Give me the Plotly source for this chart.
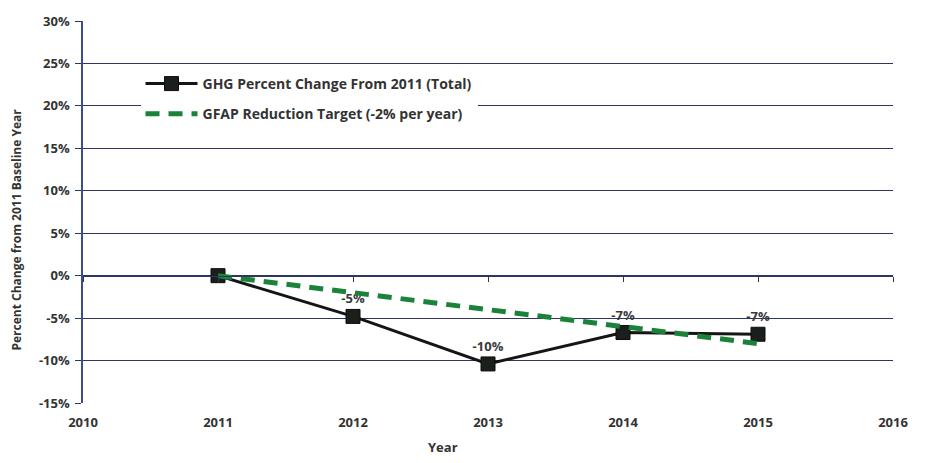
import plotly.graph_objects as go

years = [2011, 2012, 2013, 2014, 2015]
ghg_change = [0.0, -4.8, -10.4, -6.7, -6.9]
ghg_labels = ["", "<b>-5%</b>", "<b>-10%</b>", "<b>-7%</b>", "<b>-7%</b>"]
target = [0.0, -2.0, -4.0, -6.0, -8.0]
y_ticks = [-15, -10, -5, 0, 5, 10, 15, 20, 25, 30]
y_tick_text = [f"<b>{v}%</b>" for v in y_ticks]
x_ticks = [2010, 2011, 2012, 2013, 2014, 2015, 2016]
x_tick_text = [f"<b>{v}</b>" for v in x_ticks]

FONT = "Open Sans"
TXT = "#333333"
GRID = "#2e3463"

fig = go.Figure()
fig.add_trace(go.Scatter(
    x=years, y=ghg_change, mode="lines+markers+text",
    name="<b>GHG Percent Change From 2011 (Total)</b>", legendgroup="a",
    line=dict(color="#151515", width=3),
    marker=dict(symbol="square", size=14, color="#1b1f1b", line=dict(color="#0d0d0d", width=1)),
    text=ghg_labels, textposition="top center",
    textfont=dict(family=FONT, size=13, color="#3a3a3a"),
))
fig.add_trace(go.Scatter(
    x=years, y=target, mode="lines", legendgroup="b",
    name="<b>GFAP Reduction Target (-2% per year)</b>",
    line=dict(color="#1b823a", width=5, dash="14px,9px"),
))
# x-axis line crossing at 0% with tick marks
fig.add_trace(go.Scatter(x=[2010, 2016], y=[0, 0], xaxis="x2", mode="lines",
                         line=dict(width=0), showlegend=False, hoverinfo="skip"))

fig.update_layout(
    width=931, height=463,
    margin=dict(l=83, r=38, t=17, b=60),
    paper_bgcolor="white", plot_bgcolor="white",
    font=dict(family=FONT, color=TXT),
    showlegend=True,
    legend=dict(x=0.071, y=0.877, xanchor="left", yanchor="top",
                bgcolor="white", borderwidth=0,
                font=dict(family=FONT, size=14, color=TXT),
                itemwidth=52, tracegroupgap=9),
    xaxis=dict(range=[2010, 2016], tickvals=x_ticks, ticktext=x_tick_text,
               showgrid=False, zeroline=False, showline=False, ticks="",
               ticklabelstandoff=10,
               tickfont=dict(family=FONT, size=13, color=TXT)),
    xaxis2=dict(range=[2010, 2016], overlaying="x", anchor="free", position=1/3,
                side="bottom", tickvals=x_ticks, showticklabels=False, showgrid=False,
                zeroline=False, showline=True, linecolor=GRID, linewidth=1,
                ticks="outside", ticklen=5, tickcolor=GRID),
    yaxis=dict(range=[-15, 30], tickvals=y_ticks, ticktext=y_tick_text,
               showgrid=True, gridcolor=GRID, gridwidth=1, zeroline=False,
               showline=True, linecolor="#3b4a92", linewidth=1.5,
               ticks="outside", ticklen=6, tickcolor=GRID,
               ticklabelstandoff=3,
               tickfont=dict(family=FONT, size=13, color=TXT)),
    annotations=[
        dict(text="<b>Year</b>", xref="paper", yref="paper", x=0.444, y=-0.114,
             xanchor="center", yanchor="middle", showarrow=False,
             font=dict(family=FONT, size=13, color=TXT)),
        dict(text="<b>Percent Change from 2011 Baseline Year</b>", xref="paper", yref="paper",
             x=-0.082, y=0.453, xanchor="center", yanchor="middle", textangle=-90,
             showarrow=False, font=dict(family=FONT, size=12, color=TXT)),
    ],
)
fig.write_html("out.html")
